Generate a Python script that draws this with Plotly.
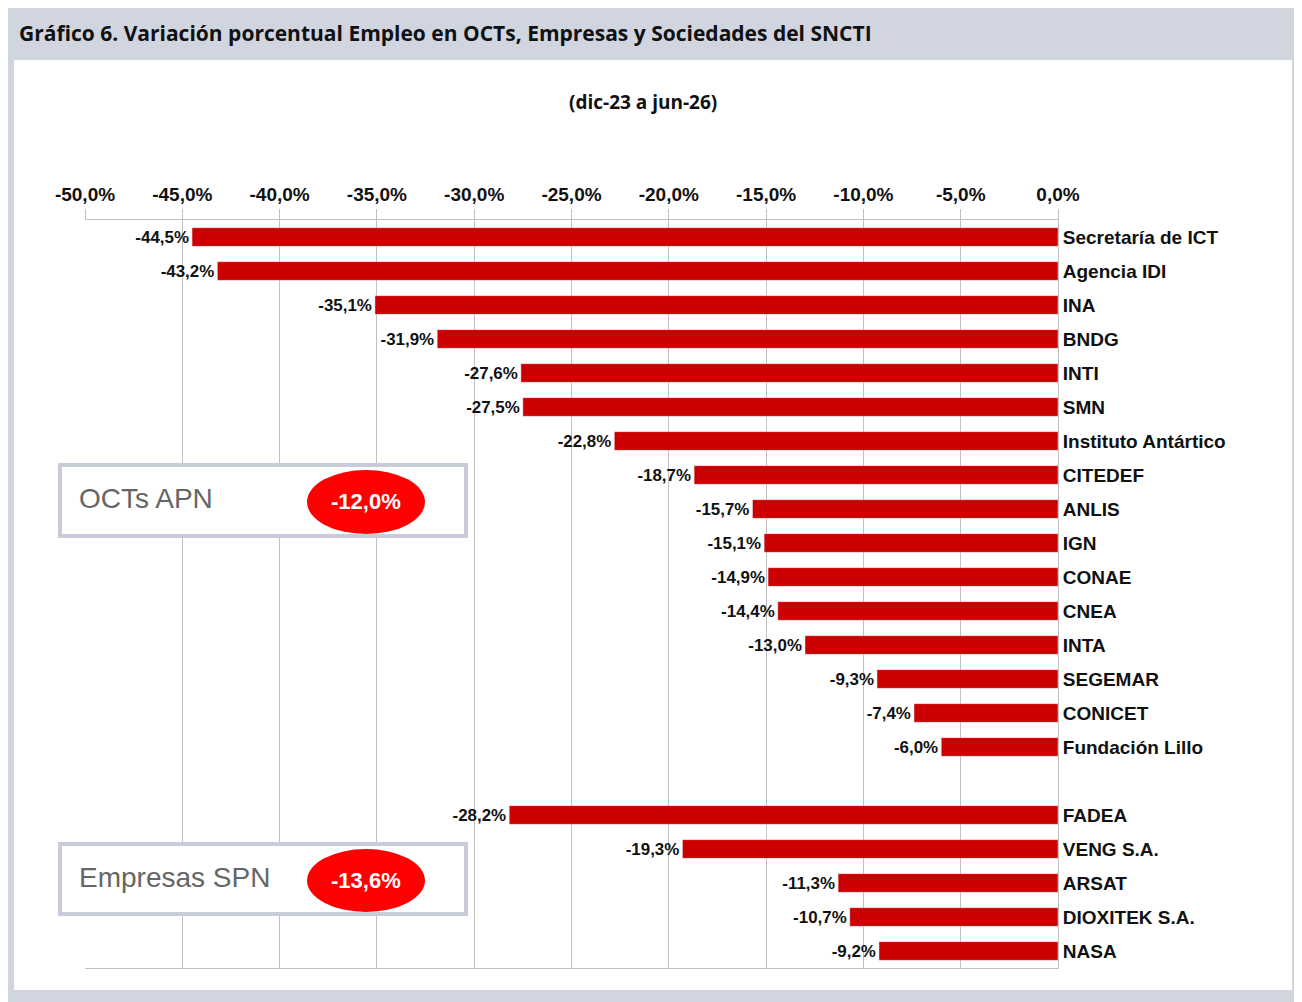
import plotly.graph_objects as go

cats = ["Secretaría de ICT","Agencia IDI","INA","BNDG","INTI","SMN","Instituto Antártico","CITEDEF","ANLIS","IGN","CONAE","CNEA","INTA","SEGEMAR","CONICET","Fundación Lillo","","FADEA","VENG S.A.","ARSAT","DIOXITEK S.A.","NASA"]
vals = [-44.5,-43.2,-35.1,-31.9,-27.6,-27.5,-22.8,-18.7,-15.7,-15.1,-14.9,-14.4,-13.0,-9.3,-7.4,-6.0,None,-28.2,-19.3,-11.3,-10.7,-9.2]
xticks = [-50,-45,-40,-35,-30,-25,-20,-15,-10,-5,0]
boxes = [("OCTs APN","-12,0%",465,536),("Empresas SPN","-13,6%",844,914)]

O = 8
W,H = 1302-O,1002-O
L,R,T,B = 85-O,1058-O,220-O,968-O
def px(x): return (x-O-L)/(R-L)
def py(y): return (B-(y-O))/(B-T)

ys = list(range(len(cats)))
fig = go.Figure(go.Bar(
    x=vals, y=ys, orientation="h", marker_color="#cc0000", width=0.55,
    text=[("" if v is None else "<b>" + f"{v:.1f}%".replace(".",",") + "</b>") for v in vals],
    textposition="outside", cliponaxis=False,
    textfont=dict(family="Liberation Sans", size=19, color="#111"),
))
shapes = [dict(type="rect", xref="paper", yref="paper", x0=px(14), x1=px(1292), y0=py(990), y1=py(60),
               fillcolor="white", line_width=0, layer="below")]
ann = [dict(text="<b>Gráfico 6. Variación porcentual Empleo en OCTs, Empresas y Sociedades del SNCTI</b>",
            xref="paper", yref="paper", x=px(17), y=py(33), xanchor="left", yanchor="middle", showarrow=False,
            font=dict(family="Open Sans", size=21, color="#111")),
       dict(text="<b>(dic-23 a jun-26)</b>", xref="paper", yref="paper", x=px(643), y=py(102),
            xanchor="center", yanchor="middle", showarrow=False, font=dict(family="Open Sans", size=19, color="#111"))]
for lab, pct, y0, y1 in boxes:
    shapes.append(dict(type="rect", xref="paper", yref="paper", x0=px(60), x1=px(466), y0=py(y1), y1=py(y0),
                       fillcolor="white", line=dict(color="#c8cbd8", width=4)))
    shapes.append(dict(type="circle", xref="paper", yref="paper", x0=px(307), x1=px(425), y0=py(y1-2), y1=py(y0+5),
                       fillcolor="#ff0000", line_width=0))
    ann.append(dict(text=lab, xref="paper", yref="paper", x=px(77), y=py((y0+y1)/2-2), xanchor="left",
                    yanchor="middle", showarrow=False, font=dict(family="Liberation Sans", size=28, color="#666")))
    ann.append(dict(text=f"<b>{pct}</b>", xref="paper", yref="paper", x=px(366), y=py((y0+y1)/2+1),
                    xanchor="center", yanchor="middle", showarrow=False, font=dict(family="Liberation Sans", size=22, color="white")))

fig.update_layout(
    width=W, height=H, margin=dict(l=L, r=W-R, t=T, b=H-B),
    paper_bgcolor="#d0d5e0", plot_bgcolor="white", showlegend=False,
    shapes=shapes, annotations=ann,
    xaxis=dict(side="top", range=[-50,0], tickvals=xticks,
               ticktext=["<b>" + f"{t:.1f}%".replace(".",",") + "</b>" for t in xticks],
               showgrid=True, gridcolor="#c0c0c0", gridwidth=1, zeroline=False,
               showline=True, linecolor="#c0c0c0", mirror=True, ticks="outside", ticklen=10, tickcolor="#c0c0c0",
               tickfont=dict(family="Liberation Sans", size=19, color="#111")),
    yaxis=dict(side="right", range=[len(cats)-0.5,-0.5], tickvals=ys, ticktext=[f"<b>{c}</b>" for c in cats],
               showgrid=False, showline=True, linecolor="#c0c0c0", ticks="", ticklen=8,
               tickfont=dict(family="Liberation Sans", size=19, color="#111")),
)
fig.write_html("out.html")
